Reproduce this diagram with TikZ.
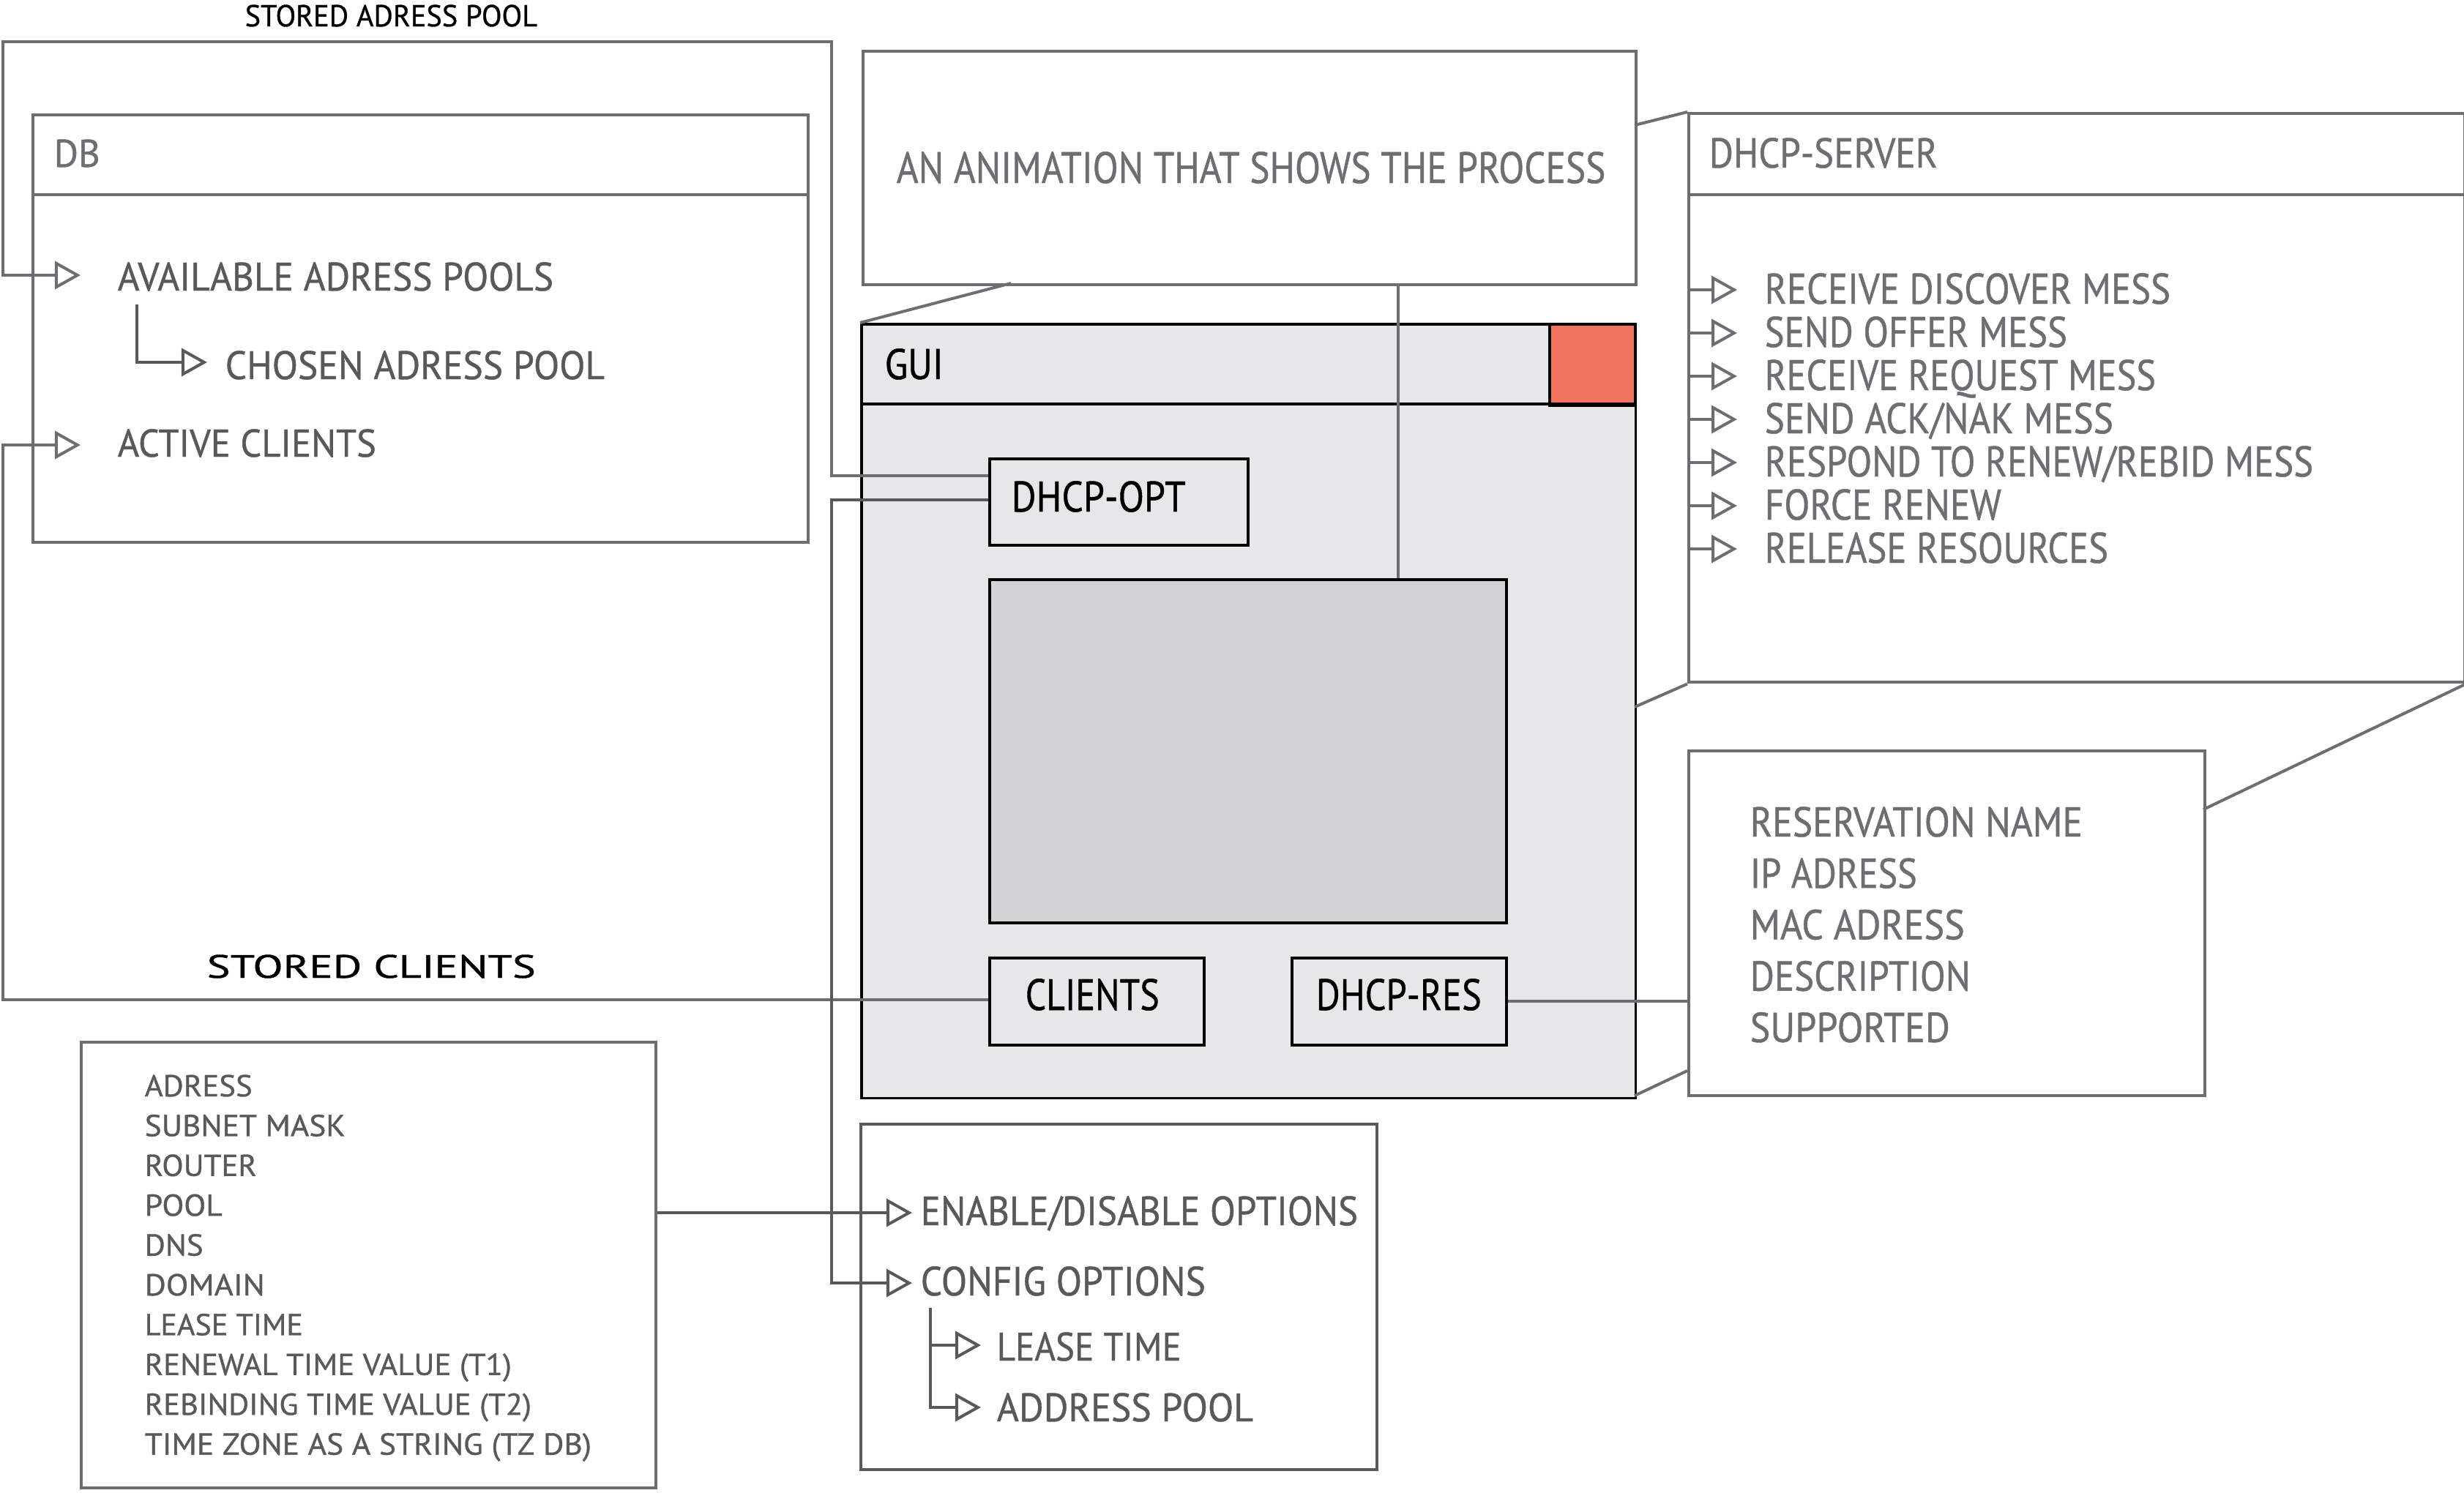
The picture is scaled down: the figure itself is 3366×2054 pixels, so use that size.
\documentclass[tikz,border=0pt]{standalone}
\usepackage{fontspec}
\setmainfont{PT Sans}[FakeBold=0.8]
\usetikzlibrary{arrows.meta}
\definecolor{lg}{HTML}{6D6E71}
\definecolor{dg}{HTML}{58595B}
\definecolor{guifill}{HTML}{E6E7E8}
\definecolor{animfill}{HTML}{D1D3D4}
\definecolor{closered}{HTML}{F1735F}
% width (cm), cap height (cm), text
\newcommand{\tw}[3]{\resizebox{#1cm}{#2cm}{\raisebox{0pt}[\fontcharht\font`H][0pt]{#3}}}
\begin{document}
\begin{tikzpicture}[x=0.01cm,y=-0.01cm,
  conn/.style={draw=lg, line width=0.04cm},
  arr/.style={conn, -{Triangle[open,length=0.35cm,width=0.38cm]}},
  gbox/.style={draw=lg, line width=0.04cm, anchor=north west, inner sep=0pt},
  kbox/.style={draw=black, line width=0.035cm, anchor=north west, inner sep=0pt},
  txt/.style={anchor=base west, inner sep=0pt, text=lg, font=\fontsize{16}{18}\selectfont},
  ktxt/.style={txt, text=black},
  dtxt/.style={txt, text=dg},
  stxt/.style={txt, text=dg, font=\fontsize{12}{14}\selectfont},
  otxt/.style={txt, text=dg}
]
\useasboundingbox (0,0) rectangle (3366,2054);

% ---------- DB ----------
\node[gbox, minimum width=10.58cm, minimum height=5.84cm] (db) at (43,155) {};
\draw[conn] (db.west |- 0,266) -- (db.east |- 0,266);
\node[txt] (dbt) at (73,228) {\tw{0.63}{0.37}{DB}};
\node[dtxt] (avail) at (160,397) {\tw{5.95}{0.38}{AVAILABLE ADRESS POOLS}};
\node[dtxt] (chosen) at (307,518) {\tw{5.18}{0.38}{CHOSEN ADRESS POOL}};
\node[dtxt] (active) at (160,624) {\tw{3.53}{0.37}{ACTIVE CLIENTS}};
\coordinate (tAvail) at (110,376);
\coordinate (tActive) at (110,608);
\coordinate (tChosen) at (283,495);
\coordinate (cTop) at (187,416);
\draw[arr, draw=dg] (cTop) -- (cTop |- tChosen) -- (tChosen);

\node[ktxt, font=\fontsize{12}{14}\selectfont] (sap) at (334,36) {\tw{3.99}{0.29}{STORED ADRESS POOL}};

% ---------- Animation box ----------
\node[gbox, minimum width=10.55cm, minimum height=3.19cm] (anibox) at (1177,68) {};
\node[txt] (anit) at (1224,250) {\tw{9.68}{0.42}{AN ANIMATION THAT SHOWS THE PROCESS}};

% ---------- GUI ----------
\node[kbox, fill=guifill, minimum width=10.57cm, minimum height=10.57cm] (gui) at (1175,441) {};
\node[kbox, fill=closered, minimum width=1.17cm, minimum height=1.11cm] (close) at (2115,441) {};
\draw[draw=black, line width=0.035cm] (gui.west |- 0,552) -- (gui.east |- 0,552);
\node[ktxt] (guit) at (1208,518) {\tw{0.80}{0.41}{GUI}};
\node[kbox, minimum width=3.53cm, minimum height=1.18cm] (opt) at (1350,625) {};
\node[ktxt] (optt) at (1381,699) {\tw{2.38}{0.41}{DHCP-OPT}};
\node[kbox, fill=animfill, minimum width=7.06cm, minimum height=4.69cm] (anim) at (1350,790) {};
\node[kbox, minimum width=2.93cm, minimum height=1.19cm] (cli) at (1350,1307) {};
\node[ktxt] (clit) at (1400,1380) {\tw{1.83}{0.42}{CLIENTS}};
\node[kbox, minimum width=2.93cm, minimum height=1.19cm] (res) at (1763,1307) {};
\node[ktxt] (rest) at (1797,1380) {\tw{2.26}{0.42}{DHCP-RES}};

% connector animation box -> animation area
\draw[conn] (anibox.south -| 1910,0) -- (anim.north -| 1910,0);
% callout lines
\draw[conn] (1381,387) -- (gui.north west);
\draw[conn] (2233,171) -- (2305,153);

% ---------- DHCP-SERVER ----------
\node[gbox, minimum width=10.59cm, minimum height=7.77cm] (srv) at (2305,153) {};
\draw[conn] (srv.west |- 0,266) -- (srv.east |- 0,266);
\node[txt] (srvt) at (2334,229) {\tw{3.12}{0.40}{DHCP-SERVER}};
\foreach \i/\w/\t in {0/5.54/RECEIVE DISCOVER MESS, 1/4.13/SEND OFFER MESS, 2/5.34/RECEIVE REQUEST MESS, 3/4.76/SEND ACK\slash NAK MESS, 4/7.49/RESPOND TO RENEW\slash REBID MESS, 5/3.23/FORCE RENEW, 6/4.69/RELEASE RESOURCES}{
  \pgfmathsetmacro{\yb}{415+59*\i}
  \pgfmathsetmacro{\ya}{396+59*\i}
  \node[txt] (s\i) at (2410,\yb) {\tw{\w}{0.41}{\t}};
  \coordinate (st\i) at (2373,\ya);
  \draw[arr] (srv.west |- st\i) -- (st\i);
}
\draw[conn] (2233,966) -- (srv.south west);

% ---------- Reservation ----------
\node[gbox, minimum width=7.05cm, minimum height=4.71cm] (rsv) at (2305,1024) {};
\foreach \i/\w/\t in {0/4.54/RESERVATION NAME, 1/2.28/IP ADRESS, 2/2.93/MAC ADRESS, 3/3.01/DESCRIPTION, 4/2.73/SUPPORTED}{
  \pgfmathsetmacro{\yb}{1143+70.2*\i}
  \node[txt] (r\i) at (2390,\yb) {\tw{\w}{0.40}{\t}};
}
\draw[conn] (srv.south east) -- (3010,1106);
\draw[conn] (2233,1497) -- (2305,1463);
\draw[conn] (res.east) -- (rsv.west |- res.east);

% ---------- Left list ----------
\node[gbox, minimum width=7.85cm, minimum height=6.09cm] (lst) at (109,1422) {};
\foreach \i/\w/\t in {0/1.47/ADRESS, 1/2.74/SUBNET MASK, 2/1.53/ROUTER, 3/1.06/POOL, 4/0.80/DNS, 5/1.64/DOMAIN, 6/2.16/LEASE TIME, 7/5.01/RENEWAL TIME VALUE (T1), 8/5.28/REBINDING TIME VALUE (T2), 9/6.10/TIME ZONE AS A STRING (TZ DB)}{
  \pgfmathsetmacro{\yb}{1498+54.4*\i}
  \node[stxt] (l\i) at (197,\yb) {\tw{\w}{0.29}{\t}};
}
\node[ktxt, font=\fontsize{12.5}{14}\selectfont] (sct) at (282,1336) {\tw{4.49}{0.31}{STORED CLIENTS}};

% ---------- Options ----------
\node[gbox, draw=dg, minimum width=7.05cm, minimum height=4.72cm] (ops) at (1174,1534) {};
\node[otxt] (en) at (1257,1674) {\tw{5.97}{0.39}{ENABLE\slash DISABLE OPTIONS}};
\node[otxt] (cf) at (1257,1770) {\tw{3.89}{0.39}{CONFIG OPTIONS}};
\node[otxt] (lt) at (1361,1859) {\tw{2.52}{0.38}{LEASE TIME}};
\node[otxt] (ap) at (1361,1942) {\tw{3.50}{0.38}{ADDRESS POOL}};
\coordinate (tEn) at (1246,1657);
\coordinate (tCf) at (1246,1753);
\coordinate (tLt) at (1340,1838);
\coordinate (tAp) at (1340,1923);
\coordinate (sTop) at (1271,1787);
\draw[arr, draw=dg] (sTop) -- (sTop |- tAp) -- (tAp);
\draw[arr, draw=dg] (sTop |- tLt) -- (tLt);

% ---------- Long connectors ----------
\draw[arr] (opt.west |- 0,650) -- (1136,650) -- (1136,57) -- (4,57) -- (4,376) -- (tAvail);
\draw[arr] (cli.west |- 0,1366) -- (4,1366) -- (4,608) -- (tActive);
\draw[arr, draw=dg] (opt.west |- 0,683) -- (1136,683) -- (1136,1753) -- (tCf);
\draw[arr, draw=dg] (lst.east |- tEn) -- (tEn);
\end{tikzpicture}
\end{document}
